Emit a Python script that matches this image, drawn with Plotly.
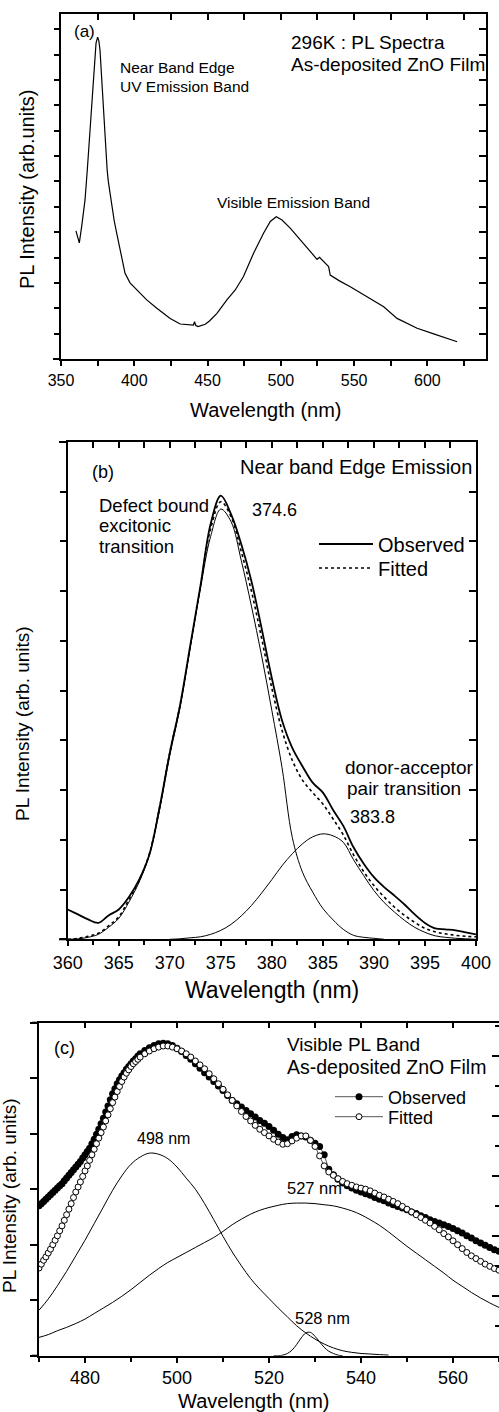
import plotly.graph_objects as go

W, H = 499, 1412
FONT = "Liberation Sans, Arial, sans-serif"


def fx(x):
    return x / W


def fy(y):
    return 1 - y / H


# ---------------- (a) full PL spectrum ----------------
a_wl = [360.2, 362.5, 364.1, 366.4, 368.0, 369.8, 371.0, 372.1, 373.0, 373.9,
        375.0, 375.8, 376.6, 377.5, 378.5, 379.6, 380.7, 381.5, 382.3, 383.5,
        384.6, 386.3, 388.0, 390.5, 393.7, 397.1, 401.7, 408.5, 415.4, 424.5,
        431.3, 438.1, 440.4, 441.1, 442.0, 443.5, 445.0, 448.4, 451.3, 456.4,
        463.2, 468.9, 474.5, 481.4, 488.2, 492.8, 496.9, 500.8, 506.4, 513.3,
        520.1, 524.7, 526.4, 528.1, 530.3, 532.6, 533.7, 540.0, 547.4, 558.8,
        570.2, 579.3, 593.0, 604.3, 620.3]
a_int = [5.05, 4.58, 5.22, 6.27, 7.50, 8.90, 9.90, 10.88, 11.75, 12.45,
         12.69, 12.55, 12.19, 11.30, 10.22, 9.00, 7.98, 7.45, 6.99, 6.50,
         6.01, 5.45, 4.96, 4.20, 3.38, 3.00, 2.72, 2.33, 2.00, 1.60,
         1.38, 1.34, 1.34, 1.47, 1.32, 1.28, 1.30, 1.37, 1.50, 1.80,
         2.33, 2.72, 3.25, 4.17, 4.96, 5.42, 5.61, 5.48, 5.16, 4.69,
         4.23, 3.93, 4.01, 3.90, 3.77, 3.64, 3.31, 3.08, 2.85, 2.46,
         2.06, 1.60, 1.21, 0.99, 0.68]

# ---------------- (b) near band edge emission ----------------
b_wl = list(range(360, 401))
b_observed = [0.60, 0.50, 0.40, 0.33, 0.48, 0.60, 0.85, 1.20, 1.70, 2.65,
              3.75, 4.70, 5.90, 7.10, 8.35, 8.92, 8.55, 7.95, 7.20, 6.25,
              5.25, 4.40, 3.85, 3.48, 3.15, 2.95, 2.60, 2.28, 1.85, 1.52,
              1.25, 1.05, 0.88, 0.70, 0.50, 0.33, 0.22, 0.20, 0.18, 0.14,
              0.10]
b_fitted = [0.00, 0.02, 0.06, 0.12, 0.27, 0.45, 0.80, 1.18, 1.72, 2.65,
            3.75, 4.70, 5.90, 7.10, 8.25, 8.80, 8.50, 7.80, 7.00, 6.05,
            5.05, 4.20, 3.60, 3.20, 2.95, 2.72, 2.42, 2.10, 1.70, 1.36,
            1.08, 0.85, 0.65, 0.48, 0.34, 0.22, 0.15, 0.11, 0.08, 0.06,
            0.05]
b_wl_dbx = list(range(360, 392))
b_dbx = [0.00, 0.01, 0.04, 0.10, 0.24, 0.42, 0.75, 1.15, 1.70, 2.60,
         3.70, 4.65, 5.85, 7.05, 8.10, 8.65, 8.40, 7.62, 6.70, 5.70,
         4.60, 3.45, 2.05, 1.35, 0.95, 0.62, 0.39, 0.20, 0.08, 0.04,
         0.02, 0.00]
b_wl_dap = list(range(370, 401))
b_dap = [0.00, 0.01, 0.03, 0.05, 0.10, 0.18, 0.30, 0.47, 0.68, 0.93,
         1.20, 1.48, 1.72, 1.92, 2.06, 2.12, 2.08, 1.95, 1.60, 1.28,
         0.98, 0.74, 0.55, 0.38, 0.24, 0.14, 0.07, 0.04, 0.02, 0.01,
         0.00]
b_peak_dbx = "374.6"
b_peak_dap = "383.8"

# ---------------- (c) visible PL band ----------------
c_wl = [470.0, 470.5, 471.0, 471.5, 472.0, 472.5, 473.0, 473.5, 474.0, 474.5,
        475.0, 475.5, 476.0, 476.5, 477.0, 477.5, 478.0, 478.5, 479.0, 479.5,
        480.0, 480.5, 481.0, 481.5, 482.0, 482.5, 483.0, 483.5, 484.0, 484.5,
        485.0, 485.5, 486.0, 486.5, 487.0, 487.5, 488.0, 488.5, 489.0, 489.5,
        490.0, 490.5, 491.0, 491.5, 492.0] + list(range(493, 571))
c_observed = [2.70, 2.74, 2.78, 2.82, 2.86, 2.90, 2.94, 2.98, 3.02, 3.06,
              3.10, 3.15, 3.20, 3.25, 3.30, 3.35, 3.40, 3.45, 3.50, 3.56,
              3.62, 3.68, 3.74, 3.82, 3.90, 3.99, 4.08, 4.18, 4.28, 4.39,
              4.50, 4.61, 4.72, 4.81, 4.90, 4.97, 5.04, 5.10, 5.16, 5.21,
              5.26, 5.31, 5.35, 5.40, 5.44,
              5.50, 5.55, 5.59, 5.62, 5.63, 5.62, 5.59, 5.54, 5.48, 5.41,
              5.34, 5.26, 5.18, 5.10, 5.02, 4.94, 4.86, 4.78, 4.69, 4.60,
              4.54, 4.48, 4.42, 4.36, 4.30, 4.24, 4.19, 4.13, 4.06, 3.99,
              3.93, 3.89, 3.95, 3.98, 3.96, 3.94, 3.88, 3.83, 3.77, 3.62,
              3.36, 3.26, 3.18, 3.11, 3.06, 3.02, 2.98, 2.95, 2.92, 2.89,
              2.85, 2.82, 2.79, 2.75, 2.72, 2.69, 2.66, 2.63, 2.59, 2.56,
              2.52, 2.49, 2.45, 2.42, 2.39, 2.36, 2.33, 2.29, 2.25, 2.21,
              2.16, 2.12, 2.07, 2.03, 1.99, 1.95, 1.91, 1.88]
c_fitted = [1.58, 1.65, 1.72, 1.78, 1.85, 1.92, 2.00, 2.08, 2.16, 2.25,
            2.34, 2.44, 2.54, 2.64, 2.74, 2.85, 2.95, 3.04, 3.13, 3.23,
            3.33, 3.42, 3.52, 3.62, 3.72, 3.82, 3.92, 4.02, 4.12, 4.23,
            4.34, 4.45, 4.56, 4.66, 4.76, 4.85, 4.94, 5.02, 5.09, 5.15,
            5.21, 5.26, 5.30, 5.34, 5.38,
            5.44, 5.49, 5.53, 5.56, 5.58, 5.58, 5.56, 5.53, 5.49, 5.44,
            5.38, 5.31, 5.24, 5.17, 5.08, 4.99, 4.90, 4.80, 4.70, 4.60,
            4.50, 4.40, 4.31, 4.23, 4.15, 4.08, 4.02, 3.96, 3.90, 3.85,
            3.81, 3.82, 3.87, 3.92, 3.96, 3.96, 3.88, 3.77, 3.60, 3.42,
            3.31, 3.25, 3.19, 3.14, 3.10, 3.07, 3.04, 3.02, 3.00, 2.97,
            2.93, 2.89, 2.86, 2.82, 2.78, 2.74, 2.69, 2.64, 2.59, 2.54,
            2.49, 2.44, 2.39, 2.33, 2.27, 2.20, 2.14, 2.07, 2.00, 1.93,
            1.86, 1.80, 1.75, 1.70, 1.65, 1.61, 1.57, 1.54]
c_wl_g1 = list(range(470, 547, 2))
c_g1 = [0.82, 1.02, 1.26, 1.52, 1.80, 2.08, 2.38, 2.68, 2.98, 3.24,
        3.45, 3.58, 3.65, 3.63, 3.55, 3.40, 3.20, 3.00, 2.74, 2.45,
        2.15, 1.87, 1.62, 1.39, 1.20, 1.03, 0.86, 0.70, 0.54, 0.41,
        0.30, 0.21, 0.14, 0.09, 0.06, 0.04, 0.03, 0.02, 0.01]
c_wl_g2 = list(range(470, 571, 2))
c_g2 = [0.33, 0.38, 0.45, 0.51, 0.58, 0.66, 0.76, 0.86, 0.96, 1.07,
        1.19, 1.32, 1.45, 1.57, 1.68, 1.77, 1.86, 1.95, 2.04, 2.13,
        2.24, 2.36, 2.46, 2.55, 2.62, 2.67, 2.71, 2.74, 2.75, 2.75,
        2.74, 2.72, 2.70, 2.66, 2.61, 2.54, 2.45, 2.35, 2.23, 2.10,
        1.97, 1.85, 1.73, 1.61, 1.49, 1.36, 1.25, 1.14, 1.04, 0.95,
        0.87]
c_wl_g3 = [521, 522, 523, 524, 525, 526, 527, 528, 529, 530, 531, 532, 533, 534, 535, 536]
c_g3 = [0.00, 0.00, 0.01, 0.04, 0.10, 0.20, 0.32, 0.41, 0.42, 0.35, 0.25, 0.15, 0.08, 0.04, 0.01, 0.00]

fig = go.Figure()

thin = dict(color="black", width=1)

# (a)
fig.add_trace(go.Scatter(x=a_wl, y=a_int, mode="lines", line=dict(color="black", width=1.2),
                         xaxis="x", yaxis="y", showlegend=False, hoverinfo="skip"))

# (b)
fig.add_trace(go.Scatter(x=b_wl_dbx, y=b_dbx, mode="lines", line=thin, line_shape="spline",
                         xaxis="x2", yaxis="y2", showlegend=False))
fig.add_trace(go.Scatter(x=b_wl_dap, y=b_dap, mode="lines", line=thin, line_shape="spline",
                         xaxis="x2", yaxis="y2", showlegend=False))
fig.add_trace(go.Scatter(x=b_wl, y=b_observed, mode="lines", name="Observed",
                         line=dict(color="black", width=1.8), line_shape="spline",
                         xaxis="x2", yaxis="y2", legend="legend"))
fig.add_trace(go.Scatter(x=b_wl, y=b_fitted, mode="lines", name="Fitted",
                         line=dict(color="black", width=1.6, dash="dot"), line_shape="spline",
                         xaxis="x2", yaxis="y2", legend="legend2"))

# (c)
fig.add_trace(go.Scatter(x=c_wl_g1, y=c_g1, mode="lines", line=thin, line_shape="spline",
                         xaxis="x3", yaxis="y3", showlegend=False))
fig.add_trace(go.Scatter(x=c_wl_g2, y=c_g2, mode="lines", line=thin, line_shape="spline",
                         xaxis="x3", yaxis="y3", showlegend=False))
fig.add_trace(go.Scatter(x=c_wl_g3, y=c_g3, mode="lines", line=thin, line_shape="spline",
                         xaxis="x3", yaxis="y3", showlegend=False))
fig.add_trace(go.Scatter(x=c_wl, y=c_observed, mode="lines+markers", name="Observed",
                         line=dict(color="#555555", width=1),
                         marker=dict(symbol="circle", size=7, color="black"),
                         xaxis="x3", yaxis="y3", legend="legend3"))
fig.add_trace(go.Scatter(x=c_wl, y=c_fitted, mode="lines+markers", name="Fitted",
                         line=dict(color="#555555", width=1),
                         marker=dict(symbol="circle", size=6, color="white",
                                     line=dict(color="black", width=1)),
                         xaxis="x3", yaxis="y3", legend="legend4"))

# empty traces so the mirrored top/right frame axes are laid out
for xa, ya in [("x4", "y"), ("x", "y4"), ("x5", "y2"), ("x2", "y5"), ("x6", "y3"), ("x3", "y6")]:
    fig.add_trace(go.Scatter(x=[None], y=[None], xaxis=xa, yaxis=ya, mode="lines",
                             showlegend=False, hoverinfo="skip"))


def base_axis(**kw):
    d = dict(showgrid=False, zeroline=False, showline=True, linecolor="black", linewidth=2,
             tickcolor="black", tickwidth=1.5, ticklen=5, automargin=False,
             tickfont=dict(family=FONT, size=16, color="black"))
    d.update(kw)
    return d


# panel domains (pixels -> paper)
ax_dom = [fx(61), fx(486)]
ay_dom = [fy(359), fy(14)]
bx_dom = [fx(67.7), fx(476)]
by_dom = [fy(939.3), fy(442)]
cx_dom = [fx(39), 1.0]
cy_dom = [fy(1355.7), fy(1022.7)]


def leg(x, y, size, width):
    return dict(x=fx(x), y=fy(y), xanchor="left", yanchor="middle", bgcolor="rgba(0,0,0,0)",
                font=dict(family=FONT, size=size, color="black"), itemwidth=width, borderwidth=0)


layout = dict(
    width=W, height=H, margin=dict(l=0, r=0, t=0, b=0, pad=0, autoexpand=False),
    paper_bgcolor="white", plot_bgcolor="white",
    font=dict(family=FONT, color="black"),
    # (a)
    xaxis=base_axis(domain=ax_dom, anchor="y", range=[350, 640], tickmode="linear", tick0=350, dtick=50,
                    ticks="outside", ticklabelstandoff=1,
                    minor=dict(ticks="outside", tick0=350, dtick=25, ticklen=5, tickwidth=1.5, tickcolor="black")),
    yaxis=base_axis(domain=ay_dom, anchor="x", range=[0, 13.6], tickmode="linear", tick0=0, dtick=1,
                    ticks="outside", showticklabels=False),
    xaxis4=base_axis(overlaying="x", anchor="y", side="top", range=[350, 640], tickmode="linear", tick0=350,
                     dtick=25, ticks="inside", ticklen=6, showticklabels=False),
    yaxis4=base_axis(overlaying="y", anchor="x", side="right", range=[0, 13.6], tickmode="linear", tick0=0,
                     dtick=1, ticks="inside", ticklen=7, showticklabels=False),
    # (b)
    xaxis2=base_axis(domain=bx_dom, anchor="y2", range=[360, 400], tickmode="linear", tick0=360, dtick=5,
                     ticks="outside", ticklen=5, ticklabelstandoff=1,
                     tickfont=dict(family=FONT, size=18, color="black"),
                     minor=dict(ticks="outside", tick0=360, dtick=2.5, ticklen=4, tickwidth=1.5, tickcolor="black")),
    yaxis2=base_axis(domain=by_dom, anchor="x2", range=[0, 10], tickmode="linear", tick0=0, dtick=1,
                     ticks="outside", ticklen=6, showticklabels=False),
    xaxis5=base_axis(overlaying="x2", anchor="y2", side="top", range=[360, 400], tickmode="linear", tick0=360,
                     dtick=2.5, ticks="inside", ticklen=6, showticklabels=False),
    yaxis5=base_axis(overlaying="y2", anchor="x2", side="right", range=[0, 10], tickmode="linear", tick0=0,
                     dtick=1, ticks="inside", ticklen=7, showticklabels=False),
    # (c)
    xaxis3=base_axis(domain=cx_dom, anchor="y3", range=[470, 570], tickmode="linear", tick0=480, dtick=20,
                     ticks="outside", ticklen=5, ticklabelstandoff=0,
                     tickfont=dict(family=FONT, size=18, color="black"),
                     minor=dict(ticks="outside", tick0=470, dtick=10, ticklen=4, tickwidth=1.5, tickcolor="black")),
    yaxis3=base_axis(domain=cy_dom, anchor="x3", range=[0, 6], tickmode="linear", tick0=0, dtick=1,
                     ticks="outside", ticklen=7, showticklabels=False),
    xaxis6=base_axis(overlaying="x3", anchor="y3", side="top", range=[470, 570], tickmode="linear", tick0=470,
                     dtick=10, ticks="inside", ticklen=5, showticklabels=False),
    yaxis6=base_axis(overlaying="y3", anchor="x3", side="right", range=[0, 11.1], tickmode="linear", tick0=0,
                     dtick=2, ticks="inside", ticklen=7, showline=False, showticklabels=False,
                     minor=dict(ticks="inside", tick0=0, dtick=1, ticklen=4, tickwidth=1.5, tickcolor="black")),
    legend=leg(314, 544, 20, 54),
    legend2=leg(314, 568, 20, 54),
    legend3=leg(330, 1097, 18, 48),
    legend4=leg(330, 1117, 18, 48),
)
fig.update_layout(**layout)


def label(text, x, y, size, xanchor="left", angle=0):
    fig.add_annotation(text=text, x=fx(x), y=fy(y), xref="paper", yref="paper",
                       xanchor=xanchor, yanchor="middle", showarrow=False, textangle=angle,
                       font=dict(family=FONT, size=size, color="black"))


# (a) texts
label("(a)", 72, 32, 17)
label("Near Band Edge", 118, 67, 15.5)
label("UV Emission Band", 118, 86, 15.5)
label("296K : PL Spectra", 289, 42, 19)
label("As-deposited ZnO Film", 289, 64, 19)
label("Visible Emission Band", 215, 202, 15.5)
label("Wavelength (nm)", 266, 410, 20, xanchor="center")
label("PL Intensity (arb.units)", 27, 190, 20, xanchor="center", angle=-90)

# (b) texts
label("(b)", 90, 472, 18)
label("Near band Edge Emission", 474, 467, 20, xanchor="right")
label("Defect bound", 97, 505, 18.5)
label("excitonic", 97, 525, 18.5)
label("transition", 97, 546, 18.5)
label(b_peak_dbx, 250, 510, 18)
label("donor-acceptor", 343, 767, 19)
label("pair transition", 345, 788, 19)
label(b_peak_dap, 348, 817, 18)
label("Wavelength (nm)", 272, 990, 23, xanchor="center")
label("PL Intensity (arb. units)", 23, 724, 19, xanchor="center", angle=-90)

# (c) texts
label("(c)", 52, 1048, 18)
label("Visible PL Band", 285, 1044, 19)
label("As-deposited ZnO Film", 285, 1067, 19.5)
label("498 nm", 135, 1138, 16)
label("527 nm", 285, 1188, 16.5)
label("528 nm", 293, 1318, 16.5)
label("Wavelength (nm)", 254, 1401, 20, xanchor="center")
label("PL Intensity (arb. units)", 9, 1196, 19, xanchor="center", angle=-90)

# axis-line extensions past the left spine
for (x0, x1, y) in [(53, 61, 359), (59, 67.7, 939.3), (59, 67.7, 442), (32, 39, 1355.7), (32, 39, 1022.7)]:
    fig.add_shape(type="line", xref="paper", yref="paper", x0=fx(x0), x1=fx(x1), y0=fy(y), y1=fy(y),
                  line=dict(color="black", width=2))

fig.write_html("out.html",
               post_script="document.body.style.margin='0px';document.body.style.overflow='hidden';")
